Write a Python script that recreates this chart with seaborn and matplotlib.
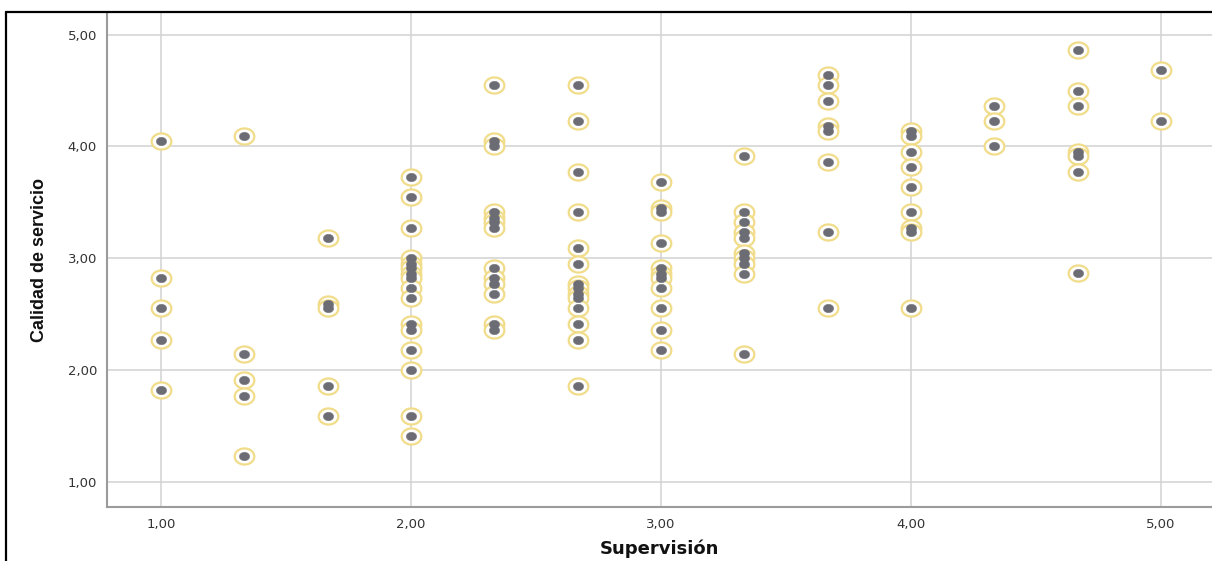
import matplotlib
matplotlib.use("Agg")
import matplotlib.pyplot as plt
from matplotlib.path import Path
from matplotlib.lines import Line2D
import numpy as np
import pandas as pd
import seaborn as sns

# ---- data ----
supervision_levels = [1.0, 4/3, 5/3, 2.0, 7/3, 8/3, 3.0, 10/3, 11/3, 4.0, 13/3, 14/3, 5.0]

calidad_s100 = [4.05, 2.82, 2.55, 2.27, 1.82]
calidad_s133 = [4.09, 2.14, 1.91, 1.77, 1.23]
calidad_s167 = [3.18, 2.59, 2.55, 1.86, 1.59]
calidad_s200 = [3.73, 3.55, 3.27, 3.00, 2.95, 2.91, 2.86, 2.82, 2.73, 2.64, 2.41, 2.36, 2.18, 2.00, 1.59, 1.41]
calidad_s233 = [4.55, 4.05, 4.00, 3.41, 3.36, 3.32, 3.27, 2.91, 2.82, 2.77, 2.68, 2.41, 2.36]
calidad_s267 = [4.55, 4.23, 3.77, 3.41, 3.09, 2.95, 2.77, 2.73, 2.68, 2.64, 2.55, 2.41, 2.27, 1.86]
calidad_s300 = [3.68, 3.45, 3.41, 3.14, 2.91, 2.86, 2.82, 2.73, 2.55, 2.36, 2.18]
calidad_s333 = [3.91, 3.41, 3.32, 3.23, 3.18, 3.05, 3.00, 2.95, 2.86, 2.14]
calidad_s367 = [4.64, 4.55, 4.41, 4.18, 4.14, 3.86, 3.23, 2.55]
calidad_s400 = [4.14, 4.09, 3.95, 3.82, 3.64, 3.41, 3.27, 3.23, 2.55]
calidad_s433 = [4.36, 4.23, 4.00]
calidad_s467 = [4.86, 4.50, 4.36, 3.95, 3.91, 3.77, 2.87]
calidad_s500 = [4.68, 4.23]

calidad_columns = [calidad_s100, calidad_s133, calidad_s167, calidad_s200, calidad_s233,
                   calidad_s267, calidad_s300, calidad_s333, calidad_s367, calidad_s400,
                   calidad_s433, calidad_s467, calidad_s500]

tick_values = [1, 2, 3, 4, 5]
tick_labels = ["1,00", "2,00", "3,00", "4,00", "5,00"]
x_title = "Supervisión"
y_title = "Calidad de servicio"

rows = []
for sx, col in zip(supervision_levels, calidad_columns):
    for cy in col:
        rows.append((sx, cy))
df = pd.DataFrame(rows, columns=["Supervisión", "Calidad de servicio"])

# ---- figure ----
sns.set_style("white")
W, H = 1212, 561
fig = plt.figure(figsize=(W / 100, H / 100), dpi=100)
ax = fig.add_axes([106.7 / W, 1 - 506.7 / H, (W - 106.7) / W, (506.7 - 13) / H])

# slightly wide ellipse marker (reference is horizontally stretched)
t = np.linspace(0, 2 * np.pi, 60)
ell = Path(np.column_stack([1.22 * np.cos(t), np.sin(t)]), closed=True)

sns.scatterplot(data=df, x="Supervisión", y="Calidad de servicio", ax=ax,
                marker=ell, s=200, color="white", edgecolor="#f1dc8a",
                linewidth=1.6, zorder=3, legend=False)
sns.scatterplot(data=df, x="Supervisión", y="Calidad de servicio", ax=ax,
                marker=ell, s=55, color="#6c6c74", edgecolor="#6c6c74",
                linewidth=0.3, zorder=4, legend=False)

ax.set_xlim(0.783, 5.204)
ax.set_ylim(0.776, 5.194)
ax.set_xticks(tick_values)
ax.set_xticklabels(tick_labels)
ax.set_yticks(tick_values)
ax.set_yticklabels(tick_labels)
ax.grid(True, color="#d2d2d2", linewidth=1.1, zorder=0)
ax.set_axisbelow(True)
for s in ["top", "right"]:
    ax.spines[s].set_visible(False)
for s in ["left", "bottom"]:
    ax.spines[s].set_color("#9b9b9b")
    ax.spines[s].set_linewidth(1.5)
ax.tick_params(axis="both", length=0, labelsize=9.5, colors="#333333")
ax.tick_params(axis="x", pad=8)
ax.tick_params(axis="y", pad=7)
for lab in ax.get_xticklabels() + ax.get_yticklabels():
    lab.set_family("DejaVu Sans")

ax.set_xlabel(x_title, family="DejaVu Sans", fontweight="bold", fontsize=13,
              color="#111111", labelpad=6)
ax.set_ylabel(y_title, family="Liberation Sans", fontweight="bold", fontsize=13,
              color="#111111", labelpad=14)

# figure border (left + top) as in the reference screenshot
fig.add_artist(Line2D([6 / W, 6 / W], [0, 1 - 12 / H], transform=fig.transFigure,
                      color="black", linewidth=1.6))
fig.add_artist(Line2D([6 / W, 1], [1 - 12 / H, 1 - 12 / H], transform=fig.transFigure,
                      color="black", linewidth=1.6))

fig.savefig("out.png", dpi=100)
